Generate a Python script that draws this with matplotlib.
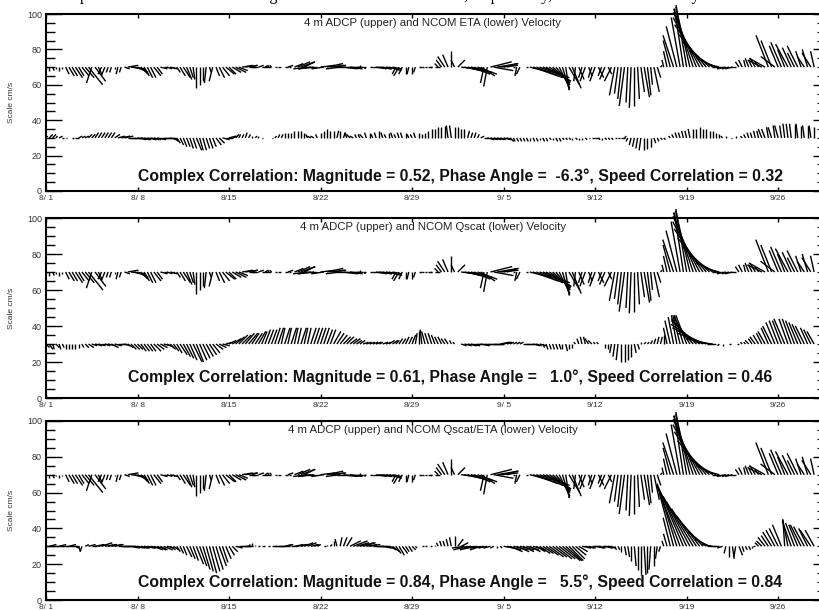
import numpy as np
import matplotlib
matplotlib.use("Agg")
import matplotlib.pyplot as plt
from matplotlib.collections import LineCollection
from matplotlib.ticker import MultipleLocator

plt.rcParams['font.family'] = ['Liberation Sans', 'DejaVu Sans']

# one stick every 6 hours starting 8/1 00:00
steps_per_day = 4
tick_days = [0, 7, 14, 21, 28, 35, 42, 49, 56]
tick_labels = ['8/ 1', '8/ 8', '8/15', '8/22', '8/29', '9/ 5', '9/12', '9/19', '9/26']

# 4 m ADCP velocity (cm/s), east (u) and north (v)
adcp_u = [
    0, 0, 1, 0, 0, 0, 2, 3, 3, 4, 3, 4, 5, 8, -3, 6,
    2, -2, -2, -1, -1, 0, -1, -1, 3, 6, 8, 7, 6, 4, 3, 3,
    3, 4, 3, 4, 2, 3, 4, 1, 2, 3, 4, 3, 2, 1, 0, 0,
    0, -1, 1, -2, 2, 3, 4, 5, 4, 5, 6, 5, 6, 7, 5, 3,
    -2, 3, 5, 2, 0, -1, 1, 0, -2, 2, 3, -1, 5, 7, 8, 6,
    -8, -7, -9, -6, 8, -7, 9, 8, 7, 9, -8, 8, 9, 7, 5, 2,
    0, 1, -1, 2, 5, 6, 7, 5, 6, 7, 5, -2, -3, -2, 0, -1,
    0, -1, 2, 1, 1, 2, -1, 3, -2, -3, -4, -3, 0, -2, 4, 8,
    10, 11, 12, 9, 11, 8, -2, -2, 12, 11, 12, 10, 8, 4, 0, 1,
    -1, -2, 0, 1, 12, 14, 15, 13, 15, 14, 12, 10, 8, 6, 4, 2,
    6, 5, -1, 3, -2, -3, 2, -2, -3, 3, -2, -3, 2, -4, -3, -2,
    -2, -3, -1, -1, 0, 1, 2, 3, 2, 1, 3, 2, 1, -1, -2, -4,
    -6, -6, -5, -5, -6, -8, -11, -13, -15, -16, -16, -15, -13, -11, -8, -6,
    -5, -4, -4, -3, -2, -2, -1, -2, -2, -3, -2, -8, -9, -7, -6, -8,
    -5, -6, -4, -7, -5, -4, -6, -3, -4, -3, -5, -2,
]
adcp_v = [
    -1, -2, -2, -1, -2, -1, -4, -5, -5, -6, -5, -5, -6, -10, -9, -8,
    -4, -4, -5, -3, -3, -1, -4, -3, -1, 1, -1, -2, -3, -4, -5, -6,
    -6, -5, -4, -1, 0, -1, -1, -1, -3, -5, -6, -7, -6, -7, -12, -10,
    -8, -9, -3, -8, -5, -6, -5, -4, -4, -3, -3, -2, 1, 1, 0, 1,
    0, 1, 0, 1, 1, 1, 0, 0, 0, 0, 1, 0, 2, 3, 3, 3,
    -1, -1, -1, 0, 1, -1, 2, 1, 1, 0, -1, -1, 0, -1, 0, 0,
    1, 0, -1, 0, 0, -1, -1, -1, -1, -2, -1, -4, -5, -4, -4, -4,
    -4, -3, 0, 0, 0, 0, 0, 0, 2, 4, 6, 7, 9, 4, 4, -1,
    -2, -3, -3, -4, -4, -5, -9, -11, 3, -2, 2, 1, 2, 1, 0, 0,
    -5, -4, 0, 0, -3, -5, -6, -5, -6, -8, -8, -9, -10, -12, -13, -13,
    -10, -12, -8, -7, -6, -8, -5, -6, -8, -6, -5, -7, -4, -8, -16, -15,
    -18, -22, -20, -23, -22, -18, -14, -17, -16, -10, -14, -6, 1, 4, 9, 15,
    18, 23, 28, 33, 35, 34, 33, 31, 28, 24, 19, 14, 9, 5, 2, 0,
    -1, -1, -1, 0, 3, 4, 4, 5, 4, 5, 3, 4, 5, 18, 15, 6,
    12, 14, 10, 13, 11, 8, 12, 9, 6, 10, 8, 9,
]

# NCOM ETA
eta_u = [
    1, 2, 2, 1, 2, 1, 1, 0, 1, 2, 2, 2, 2, 2, 2, 2,
    2, 2, 2, 2, 2, 3, 4, 5, 5, 4, 5, 5, 5, 5, 4, 5,
    5, 4, 5, 4, 4, 5, 4, 3, 2, 2, 2, 2, 2, 2, 3, 2,
    2, 2, 2, 2, 3, 3, 4, 4, 4, 3, 2, 1, 1, 1, 1, 0,
    1, 0, 1, 0, 0, 1, 1, 1, 1, 0, 0, 0, 0, 0, 0, 0,
    -1, -2, -2, -1, 0, 0, 0, 0, 0, 1, 0, 1, -1, -2, -2, -1,
    -1, -2, -1, 0, -1, -1, 0, -1, -1, 0, -1, -1, -1, -1, 0, -1,
    -1, -1, 0, 0, 0, 0, 0, 0, 0, 0, 0, -1, -1, 0, 0, 0,
    0, 1, 1, 1, 1, 2, 3, 4, 4, 4, 4, 3, 4, 3, 2, 1,
    1, 1, 1, 1, 0, 1, 1, 0, 1, 1, 1, 0, 1, 1, 1, 1,
    1, 0, 1, 0, 0, 1, 1, 2, 2, 1, 0, 1, 1, 1, 1, 1,
    2, 1, -1, -1, -1, -1, -1, 0, 0, 0, 1, 1, 1, 1, 0, -1,
    -1, -1, -1, -1, -1, -1, 0, 0, 0, 0, 0, 0, 0, 0, 0, -1,
    0, 0, -1, 0, 0, -1, -1, -1, -1, -1, -1, -2, -2, -1, -2, -1,
    -2, -1, -1, -1, -1, 0, -1, 0, -1, 0, -1, 0,
]
eta_v = [
    1, 2, 2, 1, 1, 0, 0, 0, 0, 0, 1, 1, 1, 2, 2, 3,
    3, 3, 3, 3, 3, 2, 1, 1, 1, 0, 0, 0, -1, -1, -1, -1,
    -1, -1, -1, 0, 0, 0, -1, -2, -3, -4, -5, -5, -6, -6, -7, -7,
    -7, -6, -6, -5, -4, -3, -1, 0, 1, 1, 2, 2, 2, 3, 2, 1,
    1, 1, 0, 0, 0, 0, 1, 2, 2, 3, 3, 3, 4, 4, 4, 3,
    2, 1, 1, 2, 3, 4, 5, 4, 4, 4, 4, 3, 3, 2, 1, 2,
    2, 2, 3, 3, 2, 3, 4, 3, 2, 3, 3, 2, 3, 3, 3, 2,
    2, 3, 3, 2, 3, 4, 5, 5, 6, 6, 7, 7, 7, 6, 6, 5,
    5, 4, 3, 3, 2, 1, 0, -1, -1, -1, -1, -1, -1, -1, -2, -2,
    -2, -2, -2, -2, -2, -2, -2, -1, -2, -2, -1, -1, -2, -2, -1, -1,
    -1, -1, -1, -1, -1, -1, 0, 0, 0, -1, -1, -1, -1, -1, 0, 0,
    0, 1, -2, -4, -5, -6, -7, -7, -6, -5, -3, -2, -1, -1, 0, 1,
    2, 3, 3, 4, 4, 5, 5, 5, 6, 5, 5, 4, 4, 3, 2, 1,
    1, 0, 0, 1, 0, 1, 2, 3, 3, 4, 4, 5, 5, 6, 6, 7,
    7, 7, 8, 8, 8, 8, 8, 7, 7, 7, 7, 6,
]

# NCOM Qscat
qscat_u = [
    2, 2, 1, 2, 1, 1, 0, 0, 0, 0, 0, 1, 2, 3, 3, 4,
    4, 4, 3, 4, 4, 4, 4, 3, 3, 3, 3, 3, 3, 3, 3, 3,
    3, 4, 4, 4, 4, 4, 3, 3, 3, 4, 4, 4, 4, 5, 4, 4,
    4, 4, 4, 4, 4, 4, 4, 4, 4, 5, 5, 5, 5, 5, 5, 4,
    4, 4, 3, 3, 3, 3, 3, 3, 2, 3, 2, 3, 2, 2, 3, 2,
    2, 3, 3, 3, 3, 3, 3, 3, 4, 4, 4, 4, 4, 4, 4, 3,
    3, 3, 3, 3, 3, 3, 2, 3, 3, 3, 3, 2, 2, 2, 2, 2,
    2, 1, 0, -1, -2, -2, -2, -2, -2, -2, -2, -2, -1, -1, 0, 3,
    4, 5, 5, 4, 5, 5, 4, 5, 5, 5, 4, 5, 4, 3, 2, 2,
    2, 2, 3, 3, 4, 4, 3, 4, 1, 1, 1, 1, 1, 1, 0, 1,
    0, 0, -1, -1, -1, -1, -2, -2, -1, -1, 0, 0, 0, -1, -1, -1,
    0, 0, 0, 0, 1, 1, 0, 1, 1, 1, 1, 1, 1, 0, -2, -3,
    -3, -3, -4, -5, -6, -9, -12, -14, -16, -17, -16, -13, -9, -5, -1, 0,
    0, 1, 0, 0, -1, -1, -1, -2, -2, -3, -3, -3, -4, -4, -5, -5,
    -5, -5, -6, -5, -5, -5, -5, -5, -5, -4, -4, -4,
]
qscat_v = [
    -2, -3, -3, -2, -3, -2, -3, -3, -3, -3, -2, -2, -2, -2, -1, -1,
    -1, 0, -1, -1, -2, -1, 0, 0, -1, -2, -3, -3, -3, -4, -4, -4,
    -4, -4, -3, -2, -1, -2, -3, -4, -5, -6, -7, -8, -9, -10, -10, -9,
    -8, -7, -6, -5, -3, -2, -1, 1, 2, 3, 4, 5, 5, 6, 6, 6,
    6, 7, 7, 8, 8, 8, 9, 9, 9, 9, 9, 9, 9, 9, 9, 9,
    9, 9, 9, 9, 9, 9, 8, 8, 7, 6, 5, 4, 4, 3, 3, 2,
    2, 1, 1, 1, 1, 1, 1, 1, 1, 2, 2, 2, 3, 3, 4, 4,
    5, 6, 7, 8, 7, 6, 6, 5, 4, 4, 3, 3, 2, 1, 0, -1,
    -1, -1, -1, 0, 0, -1, 0, 0, 0, 0, 0, 1, 1, 1, 1, 1,
    1, 1, 0, 0, 0, -1, -1, -1, -2, -3, -3, -3, -3, -3, -3, -4,
    -3, -2, 1, 3, 4, 4, 3, 2, 1, 1, 0, -2, -3, -5, -7, -9,
    -10, -10, -9, -7, -5, -3, 1, 1, 1, 2, 3, 4, 4, 5, 9, 13,
    15, 16, 16, 16, 16, 15, 14, 13, 11, 9, 6, 3, 1, 0, -1, -1,
    0, 0, 0, 0, 0, 1, 1, 2, 3, 4, 5, 6, 7, 9, 10, 12,
    13, 13, 14, 14, 14, 13, 12, 11, 10, 9, 8, 7,
]

# NCOM Qscat/ETA
mix_u = [
    4, 4, 3, 4, 4, 3, 4, 4, 4, 2, 1, -1, 2, 4, 3, 5,
    5, 6, 6, 5, 6, 5, 6, 5, 6, 6, 5, 6, 6, 5, 6, 5,
    5, 5, 5, 4, 5, 4, 3, 3, 2, 2, 2, 3, 3, 3, 4, 4,
    4, 4, 4, 4, 4, 4, 3, 3, 3, 3, 4, 5, 5, 4, 1, 0,
    0, 1, 2, 0, 1, 3, 4, 4, 5, 4, 3, 4, 5, 5, 4, 5,
    5, 4, 3, 2, 0, 1, 0, 1, 0, -1, 1, 2, 3, 6, 8, 7,
    8, 7, 6, 6, 6, 5, 6, 5, 5, 4, 4, 3, 3, 3, 2, 2,
    2, 1, 0, 1, 1, 0, -1, 0, -1, -1, -1, -1, -1, 0, 3, 4,
    -7, -8, -6, -8, -7, -6, -8, -5, -4, -2, 0, 1, 6, 8, 7, 8,
    7, 8, 6, 7, 6, 7, 5, 6, 6, 7, 8, 8, 9, 9, 10, 9,
    8, 7, 6, 5, 5, 5, 4, 5, 5, 4, 5, 4, 3, 2, 1, 1,
    0, 1, 1, 0, 1, 0, 0, 1, 0, -1, 0, -1, -1, -1, -2, -4,
    -8, -11, -13, -14, -15, -15, -15, -14, -13, -12, -10, -8, -6, -5, -4, -3,
    -1, 0, 1, -1, 2, 1, 1, 1, 0, -1, -2, -3, -4, -4, -5, -5,
    -5, -5, -1, -3, -5, -5, -5, -6, -6, -5, -6, -5,
]
mix_v = [
    0, 1, 0, 0, 1, 0, 0, 1, 0, -1, -3, -3, 1, 1, 0, 1,
    1, 2, 1, 1, 1, 1, 0, 0, 0, 0, -1, -1, -1, -1, -1, -1,
    -1, -2, -2, -2, -2, -1, -2, -2, -3, -4, -5, -6, -7, -8, -10, -11,
    -13, -14, -15, -14, -13, -11, -9, -7, -5, -3, -1, 0, 0, 0, 1, 2,
    1, 0, 0, 0, 0, 0, 0, 0, 0, 1, 1, 0, 1, 1, 1, 2,
    2, 1, 1, 1, 0, 0, 1, 1, 3, 4, 5, 5, 5, 3, 3, 2,
    2, 2, 1, 1, 0, 0, 0, -1, -1, -2, -3, -4, -5, -4, -3, -3,
    -2, -1, 0, 0, 0, 0, 0, 1, 2, 3, 3, 4, 5, 6, 4, 2,
    -1, -2, -1, -2, -1, -2, -1, -1, -1, -1, -1, -1, -1, -2, -3, -2,
    -3, -2, -3, -2, -3, -2, -3, -4, -4, -5, -6, -6, -7, -7, -8, -8,
    -8, -7, -5, -3, -1, -1, -1, 0, -1, -1, 0, -1, -1, -1, -2, -2,
    -3, -5, -6, -8, -11, -13, -16, -16, -15, -13, -11, -7, -3, 3, 7, 16,
    30, 35, 34, 33, 31, 28, 25, 21, 17, 13, 8, 4, 1, 0, 0, -1,
    -4, -6, -7, -6, -5, -3, -2, -2, -1, 0, 2, 3, 5, 6, 8, 9,
    10, 12, 15, 15, 14, 13, 12, 12, 11, 10, 9, 9,
]

model_names = ['ETA', 'Qscat', 'Qscat/ETA']
model_u = [eta_u, qscat_u, mix_u]
model_v = [eta_v, qscat_v, mix_v]
mag = [0.52, 0.61, 0.84]
phase = [-6.3, 1.0, 5.5]
speed_corr = [0.32, 0.46, 0.84]

upper_base = 70
lower_base = 30

W, H = 819, 610
fig = plt.figure(figsize=(W / 100, H / 100), dpi=100)

# caption of the page above, mostly cut off by the top edge
fig.text(80 / W, 1.0, 'pairs of vectors at station. Magnitude and direction of the fit, '
         'respectively, are shown for velocity',
         family=['Liberation Serif', 'DejaVu Serif'], fontsize=11.5, va='baseline', ha='left')

# (top px, bottom px) of each panel, and where the correlation text sits
panel_px = [(14, 191), (218, 398), (421, 600)]
corr_pos = [(0.119, 0.081), (0.106, 0.113), (0.119, 0.102)]

left_px, right_px = 46, 820
x_max = 59.2


def draw_sticks(ax, u, v, base, k):
    t = np.arange(len(u)) / steps_per_day
    u = np.asarray(u, float)
    v = np.asarray(v, float)
    segs = np.stack([np.column_stack([t, np.full_like(t, base)]),
                     np.column_stack([t + u * k, base + v])], axis=1)
    lc = LineCollection(segs, colors='black', linewidths=1.0, clip_on=False)
    ax.add_collection(lc)


for i in range(3):
    top, bot = panel_px[i]
    ax = fig.add_axes([left_px / W, 1 - bot / H, (right_px - left_px) / W, (bot - top) / H])
    ax.set_xlim(0, x_max)
    ax.set_ylim(0, 100)

    # stick scale so 1 cm/s has the same length along x and y
    px_per_unit = (bot - top) / 100.0
    px_per_day = (right_px - left_px) / x_max
    k = px_per_unit / px_per_day

    draw_sticks(ax, adcp_u, adcp_v, upper_base, k)
    draw_sticks(ax, model_u[i], model_v[i], lower_base, k)

    ax.set_xticks(tick_days)
    ax.set_xticklabels(tick_labels)
    ax.set_yticks(range(0, 101, 20))
    ax.yaxis.set_minor_locator(MultipleLocator(5))
    ax.tick_params(axis='x', direction='in', top=True, bottom=True, length=3, width=1,
                   labelsize=6, labelcolor='#333333', pad=3)
    ax.tick_params(axis='y', which='major', direction='in', left=True, right=False,
                   length=11.5, width=1, labelsize=6.5, labelcolor='#333333', pad=3)
    ax.tick_params(axis='y', which='minor', direction='in', left=True, right=False,
                   length=6.5, width=1)

    sec = ax.secondary_yaxis('right')
    sec.set_yticks(range(0, 101, 20))
    sec.yaxis.set_minor_locator(MultipleLocator(5))
    sec.tick_params(which='major', direction='in', length=5, width=1, labelright=False)
    sec.tick_params(which='minor', direction='in', length=2, width=0.8)

    for side in ['left', 'bottom', 'top']:
        ax.spines[side].set_linewidth(1.5)

    ax.set_ylabel('Scale cm/s', fontsize=6, color='#333333')
    ax.yaxis.set_label_coords(-(left_px - 15) / (right_px - left_px), 0.5)

    ax.text(0.5, 1 - 9 / (bot - top),
            '4 m ADCP (upper) and NCOM %s (lower) Velocity' % model_names[i],
            transform=ax.transAxes, ha='center', va='center', fontsize=8.2, color='#222222')

    ph = ('%.1f' % phase[i]).rjust(5)
    txt = 'Complex Correlation: Magnitude = %.2f, Phase Angle = %s\u00b0, Speed Correlation = %.2f' % (
        mag[i], ph, speed_corr[i])
    ax.text(corr_pos[i][0], corr_pos[i][1], txt, transform=ax.transAxes,
            ha='left', va='center', fontsize=11.3, fontweight='bold', color='#111111')

fig.savefig('out.png', dpi=100)
